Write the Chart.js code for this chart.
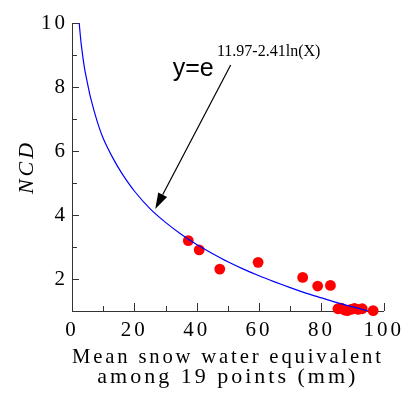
<!DOCTYPE html>
<html>
<head>
<meta charset="utf-8">
<script src="https://cdn.jsdelivr.net/npm/chart.js@4.4.1/dist/chart.umd.min.js"></script>
<style>
  html, body { margin: 0; padding: 0; background: #fff; }
  canvas { display: block; }
</style>
</head>
<body>
<canvas id="ncdChart" width="411" height="393"></canvas>
<script>
// fitted curve, sampled along the regression line
const curveX = [2.3, 3, 4, 5, 6, 8, 10, 13, 16, 20, 25, 30, 35, 40, 45, 50, 55, 60, 65, 70, 75, 80, 85, 90, 95];
const curveY = [10.0, 9.3, 8.6, 8.1, 7.65, 6.95, 6.4, 5.8, 5.3, 4.75, 4.2, 3.77, 3.4, 3.08, 2.8, 2.54, 2.31, 2.1, 1.91, 1.73, 1.56, 1.41, 1.26, 1.13, 1.0];

// observations: mean SWE (mm) vs NCD
const sweValues = [37.3, 40.8, 47.4, 59.7, 74.0, 78.8, 82.9, 85.3, 86.4, 87.4, 88.3, 89.5, 90.6, 91.8, 93.1, 96.6];
const ncdValues = [3.20, 2.91, 2.31, 2.52, 2.05, 1.78, 1.80, 1.07, 1.09, 1.03, 1.01, 1.05, 1.08, 1.05, 1.07, 1.01];

const xTicks = [0, 20, 40, 60, 80, 100];
const xMinor = [10, 30, 50, 70, 90];
const yTicks = [2, 4, 6, 8, 10];
const yMinor = [3, 5, 7, 9];

const serif = "'Liberation Serif', 'Times New Roman', serif";
const axisColor = '#333';

// regression label and arrow, placed in data units
const eqText = { x: 32.3, y: 8.34 };
const eqPower = { x: 46.5, y: 8.97 };
const arrowFrom = { x: 50.9, y: 8.69 };
const arrowTo = { x: 26.7, y: 4.19 };

const spacedText = {
  id: 'spacedText',
  beforeLayout(chart) { chart.ctx.letterSpacing = '3px'; },
  beforeDraw(chart) { chart.ctx.letterSpacing = '3px'; }
};

// tick marks point into the plot
const innerTicks = {
  id: 'innerTicks',
  beforeDatasetsDraw(chart) {
    const { ctx, scales: { x, y } } = chart;
    ctx.save();
    ctx.strokeStyle = axisColor;
    ctx.lineWidth = 1;
    ctx.beginPath();
    const xMark = (v, len) => {
      const px = Math.round(x.getPixelForValue(v)) + 0.5;
      ctx.moveTo(px, y.bottom);
      ctx.lineTo(px, y.bottom - len);
    };
    const yMark = (v, len) => {
      const py = Math.round(y.getPixelForValue(v)) + 0.5;
      ctx.moveTo(x.left, py);
      ctx.lineTo(x.left + len, py);
    };
    xTicks.forEach(v => xMark(v, 8));
    xMinor.forEach(v => xMark(v, 5));
    yTicks.forEach(v => yMark(v, 7));
    yMinor.forEach(v => yMark(v, 5));
    ctx.stroke();
    ctx.restore();
  }
};

const equation = {
  id: 'equation',
  afterDraw(chart) {
    const { ctx, scales: { x, y } } = chart;
    ctx.save();
    ctx.fillStyle = '#000';
    ctx.textBaseline = 'alphabetic';
    ctx.textAlign = 'left';
    ctx.font = "25px 'Liberation Sans', Arial, sans-serif";
    ctx.letterSpacing = '0px';
    ctx.fillText('y=e', x.getPixelForValue(eqText.x), y.getPixelForValue(eqText.y));
    ctx.font = '16px ' + serif;
    ctx.letterSpacing = '0px';
    ctx.fillText('11.97-2.41ln(X)', x.getPixelForValue(eqPower.x), y.getPixelForValue(eqPower.y));

    const x0 = x.getPixelForValue(arrowFrom.x), y0 = y.getPixelForValue(arrowFrom.y);
    const x1 = x.getPixelForValue(arrowTo.x), y1 = y.getPixelForValue(arrowTo.y);
    const ang = Math.atan2(y1 - y0, x1 - x0);
    const headLen = 16, headHalf = 5;
    const bx = x1 - headLen * Math.cos(ang), by = y1 - headLen * Math.sin(ang);
    ctx.strokeStyle = '#000';
    ctx.lineWidth = 1.2;
    ctx.beginPath();
    ctx.moveTo(x0, y0);
    ctx.lineTo(bx, by);
    ctx.stroke();
    ctx.beginPath();
    ctx.moveTo(x1, y1);
    ctx.lineTo(bx + headHalf * Math.sin(ang), by - headHalf * Math.cos(ang));
    ctx.lineTo(bx - headHalf * Math.sin(ang), by + headHalf * Math.cos(ang));
    ctx.closePath();
    ctx.fill();
    ctx.restore();
  }
};

new Chart(document.getElementById('ncdChart'), {
  data: {
    datasets: [
      {
        type: 'line',
        data: curveX.map((v, i) => ({ x: v, y: curveY[i] })),
        borderColor: '#0000ff',
        borderWidth: 1.2,
        pointRadius: 0,
        tension: 0.3,
        fill: false
      },
      {
        type: 'scatter',
        data: sweValues.map((v, i) => ({ x: v, y: ncdValues[i] })),
        backgroundColor: '#ff0000',
        borderColor: '#ff0000',
        borderWidth: 0,
        pointRadius: 5.4,
        clip: false
      }
    ]
  },
  options: {
    responsive: false,
    animation: false,
    events: [],
    layout: { padding: { left: 0, right: 21, top: 23, bottom: 0 } },
    plugins: { legend: { display: false }, tooltip: { enabled: false } },
    scales: {
      x: {
        type: 'linear',
        min: 0,
        max: 100,
        afterBuildTicks: s => { s.ticks = xTicks.map(v => ({ value: v })); },
        afterFit: s => { s.height = 82; },
        grid: { display: false, drawTicks: false },
        border: { display: true, color: axisColor, width: 1 },
        ticks: { color: '#000', padding: 7, maxRotation: 0, autoSkip: false, font: { family: serif, size: 21 } },
        title: {
          display: true,
          text: ['Mean snow water equivalent', 'among 19 points (mm)'],
          color: '#000',
          font: { family: serif, size: 22, lineHeight: 0.91 },
          padding: { top: 0, bottom: 6 }
        }
      },
      y: {
        type: 'linear',
        min: 1,
        max: 10,
        afterBuildTicks: s => { s.ticks = yTicks.map(v => ({ value: v })); },
        afterFit: s => { s.width = 72; },
        grid: { display: false, drawTicks: false },
        border: { display: true, color: axisColor, width: 1 },
        ticks: { color: '#000', padding: 4, font: { family: serif, size: 21 } },
        title: {
          display: true,
          text: 'NCD',
          color: '#000',
          font: { family: serif, size: 22, style: 'italic' },
          padding: { top: 14, bottom: 0 }
        }
      }
    }
  },
  plugins: [spacedText, innerTicks, equation]
});
</script>
</body>
</html>
